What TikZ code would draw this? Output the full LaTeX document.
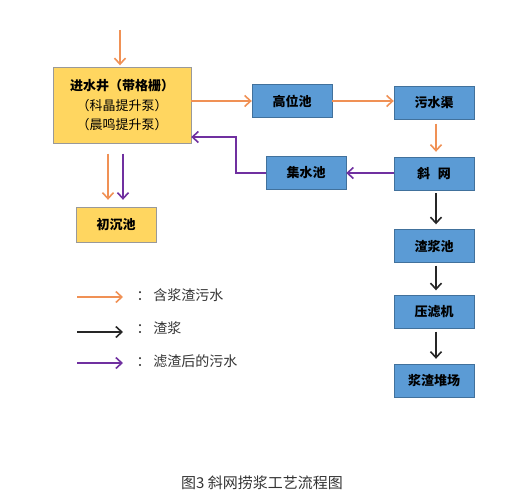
\documentclass[tikz,border=0pt]{standalone}
\usepackage{fontspec}
\setmainfont{Liberation Sans}
\newfontfamily\cjk{Noto Sans CJK SC}
\usetikzlibrary{arrows.meta}
\definecolor{boxYellow}{RGB}{255,214,96}
\definecolor{boxBlue}{RGB}{91,155,213}
\definecolor{edgeBlue}{RGB}{65,113,156}
\definecolor{lineOrange}{RGB}{240,145,85}
\definecolor{linePurple}{RGB}{112,48,160}

\begin{document}
\begin{tikzpicture}[x=1pt, y=-1pt,
    ybox/.style={draw=black!40, fill=boxYellow, inner sep=0pt, align=center,
      font=\cjk\fontsize{13}{19.5}\selectfont},
    bbox/.style={draw=edgeBlue, fill=boxBlue, inner sep=0pt, minimum width=80pt,
      minimum height=33pt, font=\cjk\bfseries\fontsize{13}{15}\selectfont},
    oarr/.style={lineOrange, line width=1.6pt, -{Straight Barb[length=6pt,width=11pt]}},
    parr/.style={linePurple, line width=1.6pt, -{Straight Barb[length=6pt,width=11pt]}},
    karr/.style={black!85, line width=1.6pt, -{Straight Barb[length=6pt,width=11pt]}},
    legtext/.style={anchor=west, text=black!80, font=\cjk\fontsize{14}{16}\selectfont}]
  \useasboundingbox (0,0) rectangle (508,495);

  % boxes
  \node[ybox, minimum width=138pt, minimum height=76pt] (jsj) at (122,105.5)
    {{\bfseries 进水井（带格栅）}\\（科晶提升泵）\\（晨鸣提升泵）};
  \node[ybox, minimum width=80pt, minimum height=35pt, font=\cjk\bfseries\fontsize{13}{15}\selectfont]
    (ccc) at (116,224.5) {初沉池};
  \node[bbox] (gwc) at (292,101) {高位池};
  \node[bbox] (wsq) at (434,103) {污水渠};
  \node[bbox] (xw) at (434,173.5) {斜\hspace{0.6em}网};
  \node[bbox] (jsc) at (306,173) {集水池};
  \node[bbox] (zjc) at (434,246) {渣浆池};
  \node[bbox] (ylj) at (434,312) {压滤机};
  \node[bbox] (jzdc) at (434,380.5) {浆渣堆场};

  % flows
  \coordinate (inflow) at (120,30);
  \draw[oarr, shorten >=2pt] (inflow) -- (inflow |- jsj.north);
  \draw[oarr, shorten <=10pt, shorten >=7pt] ([xshift=-14pt]jsj.south) -- ([xshift=-8pt]ccc.north);
  \draw[parr, shorten <=10pt, shorten >=7pt] ([xshift=1pt]jsj.south) -- ([xshift=7pt]ccc.north);
  \draw[oarr] (jsj.east |- gwc.west) -- (gwc.west);
  \draw[oarr] (gwc.east) -- (wsq.west |- gwc.east);
  \draw[oarr, shorten <=4pt, shorten >=5pt] ([xshift=2pt]wsq.south) -- ([xshift=2pt]xw.north);
  \draw[parr] (xw.west |- jsc.east) -- (jsc.east);
  \draw[parr] (jsc.west) -- ++(-30,0) |- ([yshift=-31.5pt]jsj.east);
  \draw[karr, shorten <=3pt, shorten >=5pt] ([xshift=2pt]xw.south) -- ([xshift=2pt]zjc.north);
  \draw[karr, shorten <=3pt, shorten >=5pt] ([xshift=2pt]zjc.south) -- ([xshift=2pt]ylj.north);
  \draw[karr, shorten <=3pt, shorten >=5pt] ([xshift=2pt]ylj.south) -- ([xshift=2pt]jzdc.north);

  % legend
  \coordinate (la) at (77,297);
  \coordinate (lb) at (77,332);
  \coordinate (lc) at (77,363);
  \draw[oarr] (la) -- ++(46,0);
  \draw[karr] (lb) -- ++(46,0);
  \draw[parr] (lc) -- ++(46,0);
  \node[legtext] (ta) at (133,295) {：\hspace{0.2em}含浆渣污水};
  \node[legtext] (tb) at (133,328) {：\hspace{0.2em}渣浆};
  \node[legtext] (tc) at (133,361) {：\hspace{0.2em}滤渣后的污水};

  \node[text=black!80, font=\cjk\fontsize{15}{17}\selectfont] (cap) at (262,483)
    {图3 斜网捞浆工艺流程图};
\end{tikzpicture}
\end{document}
